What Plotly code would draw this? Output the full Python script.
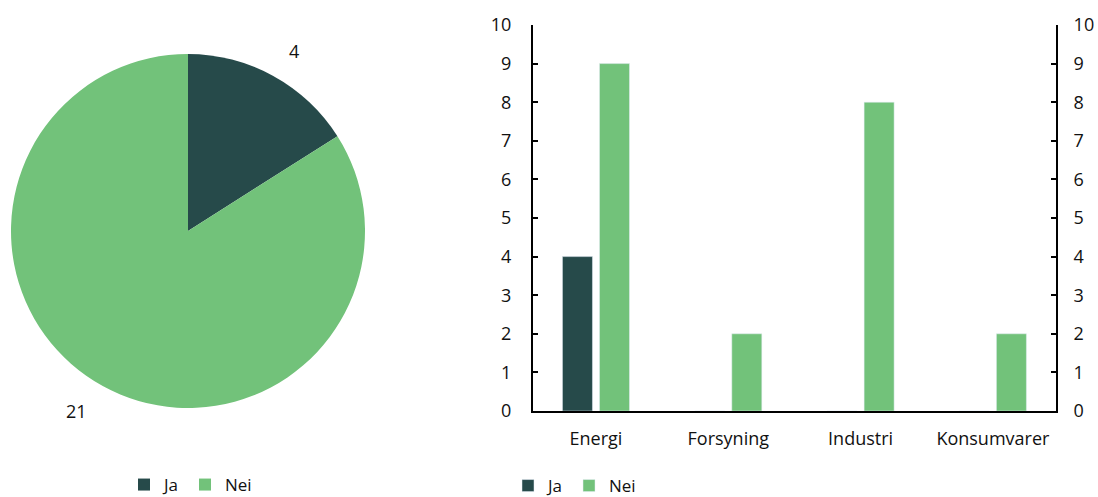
import math
import plotly.graph_objects as go

# Data
answers = ["Ja", "Nei"]
pie_counts = [4, 21]

sectors = ["Energi", "Forsyning", "Industri", "Konsumvarer"]
ja_counts = [4, 0, 0, 0]
nei_counts = [9, 2, 8, 2]
y_ticks = list(range(0, 11))

DARK = "#264a4a"
GREEN = "#72c27a"
FONT = "Open Sans"
TXT = "#111111"
W, H = 1098, 497

# pie placement (pixels)
PIE_L, PIE_R, PIE_T, PIE_B = 11, 365, 54, 408
cx, cy = (PIE_L + PIE_R) / 2, (PIE_T + PIE_B) / 2
radius = (PIE_R - PIE_L) / 2

fig = go.Figure()

fig.add_trace(go.Pie(
    labels=answers,
    values=pie_counts,
    marker=dict(colors=[DARK, GREEN], line=dict(width=0)),
    sort=False,
    direction="clockwise",
    rotation=0,
    textinfo="none",
    domain=dict(x=[PIE_L / W, PIE_R / W], y=[1 - PIE_B / H, 1 - PIE_T / H]),
    legend="legend",
    hoverinfo="label+value",
))

# value labels outside each slice, at the slice's mid-angle
total = sum(pie_counts)
start = 0.0
for v in pie_counts:
    mid = (start + v / 2) / total * 2 * math.pi
    start += v
    dx, dy = math.sin(mid), -math.cos(mid)
    px = cx + dx * radius * 1.16
    py = cy + dy * radius * 1.16
    fig.add_annotation(
        x=px / W, y=1 - py / H, xref="paper", yref="paper",
        text=str(v), showarrow=False,
        xanchor="left" if dx >= 0 else "right", yanchor="middle",
        font=dict(family=FONT, size=18, color=TXT),
    )

fig.add_trace(go.Bar(
    x=sectors, y=ja_counts, name="Ja", marker_color=DARK,
    xaxis="x", yaxis="y", legend="legend2",
))
fig.add_trace(go.Bar(
    x=sectors, y=nei_counts, name="Nei", marker_color=GREEN,
    xaxis="x", yaxis="y", legend="legend2",
))
# mirror trace for the right-hand axis
fig.add_trace(go.Scatter(
    x=sectors, y=nei_counts, yaxis="y2", xaxis="x",
    mode="markers", marker=dict(opacity=0), showlegend=False, hoverinfo="skip",
))

axis_common = dict(
    range=[0, 10], tickvals=y_ticks, showgrid=False, zeroline=False,
    showline=True, linecolor="black", linewidth=2,
    ticks="inside", ticklen=5, tickwidth=2, tickcolor="black",
    tickfont=dict(family=FONT, size=18, color=TXT),
)

legend_common = dict(
    orientation="h", xanchor="left", yanchor="middle",
    font=dict(family=FONT, size=17, color=TXT), itemwidth=30,
    bgcolor="rgba(0,0,0,0)", traceorder="normal",
)

fig.update_layout(
    width=W, height=H,
    margin=dict(l=0, r=0, t=0, b=0, autoexpand=False),
    paper_bgcolor="white", plot_bgcolor="white",
    font=dict(family=FONT, size=18, color=TXT),
    barmode="group", bargap=0.44, bargroupgap=0.19,
    xaxis=dict(
        domain=[533 / W, 1056 / W], anchor="y", range=[-0.476, 3.477],
        showline=True, linecolor="black", linewidth=2, ticks="",
        showgrid=False, tickfont=dict(family=FONT, size=18, color=TXT),
        ticklabelstandoff=10,
    ),
    yaxis=dict(domain=[1 - 411 / H, 1 - 25 / H], anchor="x", side="left",
               ticklabelstandoff=16, **axis_common),
    yaxis2=dict(overlaying="y", anchor="x", side="right",
                ticklabelstandoff=12, **axis_common),
    legend=dict(x=124 / W, y=1 - 485 / H, **legend_common),
    legend2=dict(x=508 / W, y=1 - 486 / H, **legend_common),
)

fig.write_html("out.html")
